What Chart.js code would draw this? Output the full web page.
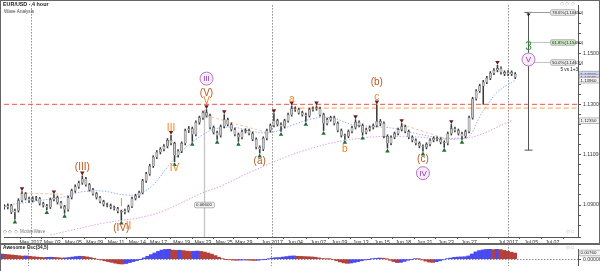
<!DOCTYPE html>
<html>
<head>
<meta charset="utf-8">
<script src="https://cdn.jsdelivr.net/npm/chart.js@4.4.0/dist/chart.umd.min.js"></script>
<style>
  html, body { margin: 0; padding: 0; background: #fff; }
  #wrap { position: relative; width: 600px; height: 271px; overflow: hidden; }
  #main { position: absolute; left: 0; top: 0; }
  #osc { position: absolute; left: 0; top: 244px; }
</style>
</head>
<body>
<div id="wrap">
  <canvas id="main" width="600" height="244"></canvas>
  <canvas id="osc" width="600" height="27"></canvas>
</div>
<script>
// --- time axis (bar index, 3 bars per trading day) ---
const tickPos = [7.5, 13.5, 19.5, 25.5, 31.5, 37.5, 43.5, 50, 56, 62, 67.5, 75.5, 82, 88.5, 94.5, 100.5, 106.5, 112.5, 118.5, 124.5, 131, 142, 148.5, 154.5];
const tickLabels = ['May 2017', 'May 03', 'May 05', 'May 09', 'May 11', 'May 14', 'May 17', 'May 19', 'May 23', 'May 25', 'May 29',
  'Jun 2017', 'Jun 04', 'Jun 07', 'Jun 09', 'Jun 13', 'Jun 15', 'Jun 18', 'Jun 21', 'Jun 23', 'Jun 27', 'Jul 2017', 'Jul 05', 'Jul 07'];
const monthStarts = [7.5, 75.5, 142];

// --- EUR/USD price bars ---
const closes = [1.0891,1.0898,1.0871,1.0878,1.0918,1.0945,1.0926,1.0918,1.0926,1.0926,
  1.0906,1.0898,1.0891,1.0922,1.0930,1.0910,1.0894,1.0882,1.0930,1.0957,
  1.0973,1.0988,1.1004,1.0981,1.0961,1.0945,1.0930,1.0914,1.0902,1.0898,
  1.0891,1.0886,1.0875,1.0871,1.0878,1.0894,1.0926,1.0937,1.0949,1.0996,
  1.1024,1.1055,1.1090,1.1110,1.1122,1.1133,1.1157,1.1145,1.1098,1.1114,
  1.1145,1.1196,1.1204,1.1180,1.1228,1.1247,1.1267,1.1255,1.1208,1.1188,
  1.1176,1.1212,1.1239,1.1220,1.1200,1.1180,1.1169,1.1192,1.1196,1.1184,
  1.1161,1.1129,1.1122,1.1165,1.1196,1.1216,1.1235,1.1220,1.1212,1.1235,
  1.1259,1.1283,1.1279,1.1267,1.1259,1.1255,1.1279,1.1283,1.1283,1.1259,
  1.1224,1.1239,1.1247,1.1224,1.1196,1.1176,1.1173,1.1192,1.1208,1.1228,
  1.1216,1.1188,1.1200,1.1208,1.1216,1.1232,1.1224,1.1173,1.1145,1.1169,
  1.1184,1.1200,1.1212,1.1192,1.1169,1.1157,1.1145,1.1133,1.1129,1.1141,
  1.1157,1.1165,1.1161,1.1149,1.1145,1.1184,1.1204,1.1196,1.1184,1.1173,
  1.1192,1.1247,1.1322,1.1353,1.1373,1.1388,1.1404,1.1424,1.1435,1.1443,
  1.1427,1.1420,1.1427,1.1420,1.1408];
const highs = [1.0902,1.0905,1.0903,1.0884,1.0925,1.0953,1.0950,1.0932,1.0933,1.0935,
  1.0930,1.0911,1.0903,1.0928,1.0941,1.0936,1.0915,1.0899,1.0936,1.0963,
  1.0980,1.0995,1.1016,1.1010,1.0986,1.0966,1.0950,1.0935,1.0919,1.0908,
  1.0904,1.0896,1.0891,1.0880,1.0884,1.0900,1.0932,1.0943,1.0955,1.1002,
  1.1030,1.1062,1.1096,1.1116,1.1128,1.1140,1.1164,1.1177,1.1150,1.1120,
  1.1151,1.1202,1.1212,1.1210,1.1234,1.1253,1.1273,1.1279,1.1261,1.1214,
  1.1194,1.1218,1.1259,1.1245,1.1226,1.1206,1.1186,1.1198,1.1203,1.1202,
  1.1190,1.1167,1.1135,1.1171,1.1202,1.1222,1.1263,1.1241,1.1226,1.1241,
  1.1265,1.1294,1.1290,1.1285,1.1273,1.1265,1.1285,1.1290,1.1294,1.1289,
  1.1265,1.1245,1.1253,1.1253,1.1230,1.1202,1.1182,1.1198,1.1214,1.1239,
  1.1234,1.1222,1.1206,1.1214,1.1222,1.1298,1.1240,1.1230,1.1179,1.1175,
  1.1190,1.1206,1.1224,1.1218,1.1198,1.1175,1.1163,1.1151,1.1139,1.1147,
  1.1163,1.1171,1.1171,1.1167,1.1155,1.1190,1.1220,1.1210,1.1202,1.1190,
  1.1198,1.1253,1.1328,1.1359,1.1380,1.1395,1.1411,1.1430,1.1442,1.1455,
  1.1449,1.1433,1.1434,1.1433,1.1426];
const lows = [1.0884,1.0885,1.0866,1.0844,1.0872,1.0912,1.0920,1.0910,1.0912,1.0918,
  1.0900,1.0892,1.0882,1.0886,1.0916,1.0904,1.0888,1.0867,1.0876,1.0924,
  1.0950,1.0966,1.0982,1.0975,1.0955,1.0939,1.0924,1.0908,1.0896,1.0892,
  1.0885,1.0880,1.0869,1.0840,1.0865,1.0872,1.0889,1.0920,1.0930,1.0944,
  1.0990,1.1018,1.1049,1.1084,1.1103,1.1115,1.1127,1.1139,1.1072,1.1090,
  1.1108,1.1139,1.1188,1.1153,1.1174,1.1221,1.1240,1.1249,1.1202,1.1182,
  1.1161,1.1170,1.1206,1.1214,1.1194,1.1174,1.1153,1.1163,1.1186,1.1178,
  1.1155,1.1123,1.1106,1.1116,1.1159,1.1190,1.1210,1.1214,1.1192,1.1206,
  1.1229,1.1253,1.1272,1.1261,1.1253,1.1232,1.1249,1.1273,1.1276,1.1253,
  1.1196,1.1218,1.1233,1.1218,1.1190,1.1170,1.1161,1.1167,1.1186,1.1202,
  1.1210,1.1177,1.1182,1.1194,1.1202,1.1210,1.1215,1.1167,1.1126,1.1139,
  1.1163,1.1178,1.1194,1.1186,1.1163,1.1151,1.1139,1.1127,1.1114,1.1123,
  1.1135,1.1151,1.1155,1.1143,1.1129,1.1139,1.1178,1.1190,1.1178,1.1161,
  1.1167,1.1186,1.1241,1.1316,1.1347,1.1300,1.1382,1.1398,1.1418,1.1429,
  1.1420,1.1414,1.1414,1.1414,1.1402];

// swing markers (bar indexes)
const swingHighs = [5, 14, 22, 47, 57, 62, 76, 81, 88, 99, 105, 112, 126, 139];
const swingLows = [3, 12, 17, 33, 48, 53, 60, 66, 72, 78, 85, 90, 96, 101, 108, 118, 124, 129];

// moving averages
const blueMaBars = [0, 10, 17, 22, 28, 34, 38, 42, 46, 50, 56, 60, 65, 70, 75, 81, 87, 92, 98, 104, 110, 116, 122, 128, 131, 134, 136, 139, 144];
const blueMaVals = [1.0898,1.0918,1.0933,1.0953,1.0955,1.0940,1.0945,1.0981,1.1051,1.1114,1.1180,1.1204,1.1208,1.1192,1.1188,1.1216,1.1243,1.1247,1.1220,1.1212,1.1204,1.1184,1.1169,1.1165,1.1173,1.1251,1.1294,1.1349,1.1396];
const pinkMaBars = [13, 28, 42, 56, 61, 70, 84, 98, 112, 130, 143];
const pinkMaVals = [1.0781, 1.0828, 1.0863, 1.0949, 1.0975, 1.1035, 1.1114, 1.1161, 1.1173, 1.1165, 1.1235];

// trend lines and levels
const trendBars = [[4.5, 16.5], [57, 74], [112, 125]];
const trendVals = [[1.0947, 1.0943], [1.1255, 1.1188], [1.1220, 1.1161]];
const redLevel = 1.1300;
const orangeLevel = 1.1285;
const orangeLevelFrom = 81;

// fibonacci projection (5 vs 1+3)
const fibBar = 147.7;
const fibTop = 1.1665;
const fibBottom = 1.1118;
const fibPcts = ['78.6%', '61.8%', '50.0%'];
const fibPrices = [1.1665, 1.1549, 1.1467];
const lastQuote = 1.1420;

// awesome oscillator, in pips
const aoPips = [64,60,56,52,48,42,38,40,36,30,
  26,22,20,22,24,22,18,14,16,20,
  26,32,36,34,28,20,10,0,-10,-20,
  -30,-40,-50,-58,-60,-54,-42,-30,-18,-2,
  16,36,56,76,96,112,120,122,112,108,
  110,106,100,96,98,100,96,88,76,62,
  44,24,6,-4,-8,-12,-14,-12,-10,-12,
  -14,-16,-14,-8,-2,6,14,18,20,26,
  32,38,40,36,34,32,30,28,24,16,
  8,4,2,-6,-20,-34,-46,-52,-48,-40,
  -30,-20,-10,-2,4,10,14,12,2,-14,
  -30,-42,-40,-28,-14,-4,4,2,-10,-24,
  -36,-40,-32,-20,-8,4,14,22,26,28,
  30,40,64,90,106,114,120,124,118,122,
  118,108,98,86,76];

// Elliott wave labels
const waveLabels = [
  { text: '(III)', bar: 22, side: 'up', gap: 9, kind: 'brown' },
  { text: 'I', bar: 33, side: 'up', gap: 7, kind: 'orange' },
  { text: '(IV)', bar: 33, side: 'down', gap: 8, kind: 'brown' },
  { text: 'II', bar: 35, side: 'down', gap: 14, kind: 'orange' },
  { text: 'III', bar: 47, side: 'up', gap: 7, kind: 'orange' },
  { text: 'IV', bar: 48, side: 'down', gap: 7, kind: 'orange' },
  { text: 'V', bar: 57, side: 'up', gap: 8, kind: 'orange' },
  { text: '(V)', bar: 57, side: 'up', gap: 16, kind: 'brown' },
  { text: 'III', bar: 57, side: 'up', gap: 31, kind: 'circle' },
  { text: '(a)', bar: 72, side: 'down', gap: 8, kind: 'brown' },
  { text: 'a', bar: 81, side: 'up', gap: 7, kind: 'orange' },
  { text: 'b', bar: 96, side: 'down', gap: 10, kind: 'orange' },
  { text: 'c', bar: 105, side: 'up', gap: 8, kind: 'orange' },
  { text: '(b)', bar: 105, side: 'up', gap: 23, kind: 'brown' },
  { text: '(c)', bar: 118, side: 'down', gap: 8, kind: 'brown' },
  { text: 'IV', bar: 118, side: 'down', gap: 22, kind: 'circle' }
];
const fibLabels = [
  { text: '3', price: 1.1529, kind: 'green' },
  { text: 'V', price: 1.1478, kind: 'circle' }
];

const FONT = "'Liberation Sans', Arial, sans-serif";
const xMin = -0.07, xMax = 161.7;
const bars = closes.map((c, i) => i);

function drawLabel(ctx, text, px, py, kind) {
  ctx.textAlign = 'center';
  ctx.textBaseline = 'middle';
  if (kind === 'circle') {
    ctx.beginPath();
    ctx.arc(px, py, 6.5, 0, Math.PI * 2);
    ctx.fillStyle = '#f6ecf8';
    ctx.fill();
    ctx.strokeStyle = '#b57cc4';
    ctx.lineWidth = 1;
    ctx.stroke();
    ctx.fillStyle = '#8b3d9e';
    ctx.font = '8px ' + FONT;
    ctx.fillText(text, px, py + 0.5);
  } else if (kind === 'green') {
    ctx.fillStyle = '#2f9e3a';
    ctx.font = '12px ' + FONT;
    ctx.fillText(text, px, py);
  } else {
    ctx.fillStyle = kind === 'orange' ? '#f5821f' : '#b9561e';
    ctx.font = '10px ' + FONT;
    ctx.fillText(text, px, py);
  }
}

function tagBox(ctx, x0, yc, w, text, fill) {
  ctx.fillStyle = fill;
  ctx.strokeStyle = '#8a8a8a';
  ctx.lineWidth = 0.6;
  ctx.beginPath();
  ctx.roundRect(x0, yc - 2.8, w, 5.6, 1.5);
  ctx.fill();
  ctx.stroke();
  ctx.fillStyle = '#222';
  ctx.font = '4.4px ' + FONT;
  ctx.textAlign = 'left';
  ctx.textBaseline = 'middle';
  ctx.fillText(text, x0 + 1.5, yc + 0.2);
}

const mainPlugin = {
  id: 'mainAnnot',
  beforeDatasetsDraw(chart) {
    const { ctx, chartArea: a, scales: { x, y } } = chart;
    ctx.save();
    ctx.strokeStyle = '#8a8a8a';
    ctx.lineWidth = 1;
    ctx.setLineDash([1.5, 1.5]);
    monthStarts.forEach(m => {
      const px = Math.round(x.getPixelForValue(m)) + 0.5;
      ctx.beginPath(); ctx.moveTo(px, a.top); ctx.lineTo(px, a.bottom); ctx.stroke();
    });
    ctx.setLineDash([]);
    // time line from the wave V top
    const vx = Math.round(x.getPixelForValue(56.3)) + 0.5;
    ctx.strokeStyle = '#c4c4c4';
    ctx.lineWidth = 1.3;
    ctx.beginPath(); ctx.moveTo(vx, y.getPixelForValue(highs[57])); ctx.lineTo(vx, a.bottom); ctx.stroke();
    tagBox(ctx, vx - 10, y.getPixelForValue(1.0900), 20, '0.06600', '#f2f2f2');
    ctx.restore();
  },
  afterDatasetsDraw(chart) {
    const { ctx, chartArea: a, scales: { x, y } } = chart;
    ctx.save();
    waveLabels.forEach(l => {
      const px = x.getPixelForValue(l.bar);
      const py = l.side === 'up' ? y.getPixelForValue(highs[l.bar]) - l.gap : y.getPixelForValue(lows[l.bar]) + l.gap;
      drawLabel(ctx, l.text, px, py, l.kind);
    });

    // fibonacci tool
    const fx = Math.round(x.getPixelForValue(fibBar)) + 0.5;
    const ty = y.getPixelForValue(fibTop), by = y.getPixelForValue(fibBottom);
    ctx.strokeStyle = '#555';
    ctx.lineWidth = 1;
    ctx.beginPath();
    ctx.moveTo(fx, ty); ctx.lineTo(fx, by);
    ctx.moveTo(fx - 4, ty); ctx.lineTo(fx + 4, ty);
    ctx.moveTo(fx - 4, by); ctx.lineTo(fx + 4, by);
    ctx.stroke();
    ctx.fillStyle = '#222';
    ctx.beginPath(); ctx.moveTo(fx - 2, ty + 1); ctx.lineTo(fx + 2, ty + 1); ctx.lineTo(fx, ty + 4); ctx.closePath(); ctx.fill();
    fibPrices.forEach((p, k) => {
      const py = Math.round(y.getPixelForValue(p)) + 0.5;
      ctx.strokeStyle = '#9a9a9a';
      ctx.beginPath(); ctx.moveTo(fx, py); ctx.lineTo(fx + 22, py); ctx.stroke();
      tagBox(ctx, fx + 22, py, 25, fibPcts[k] + '(' + p.toFixed(5) + ')', k === 1 ? '#cde9c2' : '#ececec');
    });
    ctx.fillStyle = '#111';
    ctx.font = '4.6px ' + FONT;
    ctx.textAlign = 'left';
    ctx.fillText('5 vs 1+3', fx + 32, y.getPixelForValue(fibPrices[2]) + 7);
    fibLabels.forEach(l => drawLabel(ctx, l.text, fx, y.getPixelForValue(l.price), l.kind));

    // price tags on the axis
    const tags = [[lastQuote, '#cddcfb'], [closes[closes.length - 1], '#e3d3f3'], [blueMaVals[blueMaVals.length - 1], '#f4f4f4'], [pinkMaVals[pinkMaVals.length - 1], '#f4f4f4']];
    tags.forEach(t => tagBox(ctx, a.right + 1, y.getPixelForValue(t[0]), 24, t[0].toFixed(5), t[1]));
    ctx.restore();
  },
  afterDraw(chart) {
    const { ctx, chartArea: a } = chart;
    ctx.save();
    ctx.fillStyle = '#222';
    ctx.textAlign = 'left';
    ctx.textBaseline = 'middle';
    ctx.font = 'bold 5.4px ' + FONT;
    ctx.fillText('EUR/USD - 4 hour', 3, 5);
    ctx.font = '4.6px ' + FONT;
    ctx.fillStyle = '#444';
    ctx.fillText('Wave Analysis', 4, 11.5);
    ctx.fillStyle = '#777';
    ctx.font = '4.6px ' + FONT;
    ctx.fillText('\u25C7 \u25C7 \u25C7  MotiveWave', 3, a.bottom - 5);
    ctx.fillStyle = '#aaa';
    ctx.fillText('\u25C7 \u25C7 \u25C7', a.right - 18, 4);
    ctx.fillText('\u25C7 \u25A1', a.right - 12, a.bottom - 5);
    ctx.strokeStyle = '#666';
    ctx.lineWidth = 1;
    ctx.strokeRect(0.5, 0.5, 599, 243);
    ctx.restore();
  }
};

const wickData = bars.map(i => ({ x: i, y: [lows[i], highs[i]] }));
const bodyData = bars.map(i => ({ x: i, y: [i ? closes[i - 1] : closes[i], closes[i]] }));

new Chart(document.getElementById('main'), {
  type: 'bar',
  data: {
    datasets: [
      { type: 'line', data: swingHighs.map(i => ({ x: i, y: highs[i] + 0.0012 })), showLine: false, pointStyle: 'triangle', rotation: 180, pointRadius: 2.6, backgroundColor: '#6d1c1c', borderWidth: 0, order: 0 },
      { type: 'line', data: swingLows.map(i => ({ x: i, y: lows[i] - 0.0012 })), showLine: false, pointStyle: 'triangle', pointRadius: 2.6, backgroundColor: '#1d7030', borderWidth: 0, order: 0 },
      { data: bodyData, backgroundColor: '#c9c9c9', borderColor: '#4a4a4a', borderWidth: 0.5, barThickness: 2.2, minBarLength: 1, grouped: false, order: 1 },
      { data: wickData, backgroundColor: '#3a3a3a', barThickness: 0.9, grouped: false, order: 2 },
      { type: 'line', data: blueMaBars.map((b, k) => ({ x: b, y: blueMaVals[k] })), borderColor: '#92b2ee', borderWidth: 1, borderDash: [1.5, 1.5], pointRadius: 0, tension: 0.4, order: 5 },
      { type: 'line', data: pinkMaBars.map((b, k) => ({ x: b, y: pinkMaVals[k] })), borderColor: '#d9a5e2', borderWidth: 1, borderDash: [1.5, 1.5], pointRadius: 0, tension: 0.4, order: 5 },
      ...trendBars.map((tb, k) => ({ type: 'line', data: [{ x: tb[0], y: trendVals[k][0] }, { x: tb[1], y: trendVals[k][1] }], borderColor: '#f6c4a2', borderWidth: 1, borderDash: [3, 2], pointRadius: 0, order: 6 })),
      { type: 'line', data: [{ x: xMin, y: redLevel }, { x: xMax, y: redLevel }], borderColor: '#f0524c', borderWidth: 1, borderDash: [5, 3], pointRadius: 0, order: 4 },
      { type: 'line', data: [{ x: orangeLevelFrom, y: orangeLevel }, { x: xMax, y: orangeLevel }], borderColor: '#f5a04e', borderWidth: 1, borderDash: [5, 3], pointRadius: 0, order: 4 }
    ]
  },
  options: {
    responsive: false,
    animation: false,
    events: [],
    layout: { padding: { left: 1, right: 0, top: 2, bottom: 0 } },
    plugins: { legend: { display: false }, tooltip: { enabled: false } },
    scales: {
      x: {
        type: 'linear', min: xMin, max: xMax, offset: false,
        grid: { drawOnChartArea: false, tickLength: 2, color: '#555' },
        border: { color: '#555' },
        afterBuildTicks: s => { s.ticks = tickPos.map(v => ({ value: v })); },
        afterFit: s => { s.height = 7; },
        ticks: { autoSkip: false, maxRotation: 0, padding: 0, color: '#333', font: { size: 5.2, family: FONT }, callback: (v, i) => tickLabels[i] }
      },
      y: {
        position: 'right', min: 1.0773, max: 1.1694,
        grid: { drawOnChartArea: false, tickLength: 3, color: '#555' },
        border: { color: '#555' },
        afterFit: s => { s.width = 22; },
        ticks: {
          stepSize: 0.002, padding: 2, color: '#333', font: { size: 5.2, family: FONT },
          callback: v => Math.abs(v * 100 - Math.round(v * 100)) < 1e-6 ? v.toFixed(5) : ''
        }
      }
    }
  },
  plugins: [mainPlugin]
});

// --- Awesome oscillator panel ---
const aoColors = aoPips.map((v, i) => (i === 0 || v >= aoPips[i - 1]) ? '#4a4af2' : '#b5403b');

const oscPlugin = {
  id: 'oscAnnot',
  beforeDatasetsDraw(chart) {
    const { ctx, chartArea: a, scales: { x, y } } = chart;
    ctx.save();
    ctx.strokeStyle = '#8a8a8a';
    ctx.lineWidth = 1;
    ctx.setLineDash([1.5, 1.5]);
    const zy = Math.round(y.getPixelForValue(0)) + 0.5;
    ctx.beginPath(); ctx.moveTo(a.left, zy); ctx.lineTo(a.right, zy); ctx.stroke();
    monthStarts.forEach(m => {
      const px = Math.round(x.getPixelForValue(m)) + 0.5;
      ctx.beginPath(); ctx.moveTo(px, 0); ctx.lineTo(px, a.bottom); ctx.stroke();
    });
    ctx.restore();
  },
  afterDraw(chart) {
    const { ctx, chartArea: a, scales: { y } } = chart;
    ctx.save();
    ctx.fillStyle = '#222';
    ctx.font = 'bold 4.8px ' + FONT;
    ctx.textAlign = 'left';
    ctx.textBaseline = 'middle';
    ctx.fillText('Awesome Osc(34,5)', 3, 4);
    ctx.fillStyle = '#aaa';
    ctx.font = '4.6px ' + FONT;
    ctx.fillText('\u25C7 \u25A1', a.right - 12, 4);
    const last = aoPips[aoPips.length - 1];
    tagBox(ctx, a.right + 1, y.getPixelForValue(last), 24, (last / 10000).toFixed(5), '#f4f4f4');
    ctx.strokeStyle = '#666';
    ctx.lineWidth = 1;
    ctx.beginPath(); ctx.moveTo(0, 0.5); ctx.lineTo(600, 0.5); ctx.moveTo(0.5, 0); ctx.lineTo(0.5, 27); ctx.stroke();
    ctx.restore();
  }
};

new Chart(document.getElementById('osc'), {
  type: 'bar',
  data: {
    datasets: [{ data: bars.map(i => ({ x: i, y: aoPips[i] })), backgroundColor: aoColors, barPercentage: 1, categoryPercentage: 1, borderWidth: 0 }]
  },
  options: {
    responsive: false,
    animation: false,
    events: [],
    layout: { padding: { left: 1, right: 0, top: 2, bottom: 0 } },
    plugins: { legend: { display: false }, tooltip: { enabled: false } },
    scales: {
      x: { type: 'linear', min: xMin, max: xMax, offset: false, display: false },
      y: {
        position: 'right', min: -83, max: 124,
        grid: { drawOnChartArea: false, tickLength: 3, color: '#555' },
        border: { color: '#555' },
        afterBuildTicks: s => { s.ticks = [{ value: 0 }]; },
        afterFit: s => { s.width = 22; },
        ticks: { padding: 2, color: '#333', font: { size: 5.2, family: FONT }, callback: v => (v / 10000).toFixed(5) }
      }
    }
  },
  plugins: [oscPlugin]
});
</script>
</body>
</html>
